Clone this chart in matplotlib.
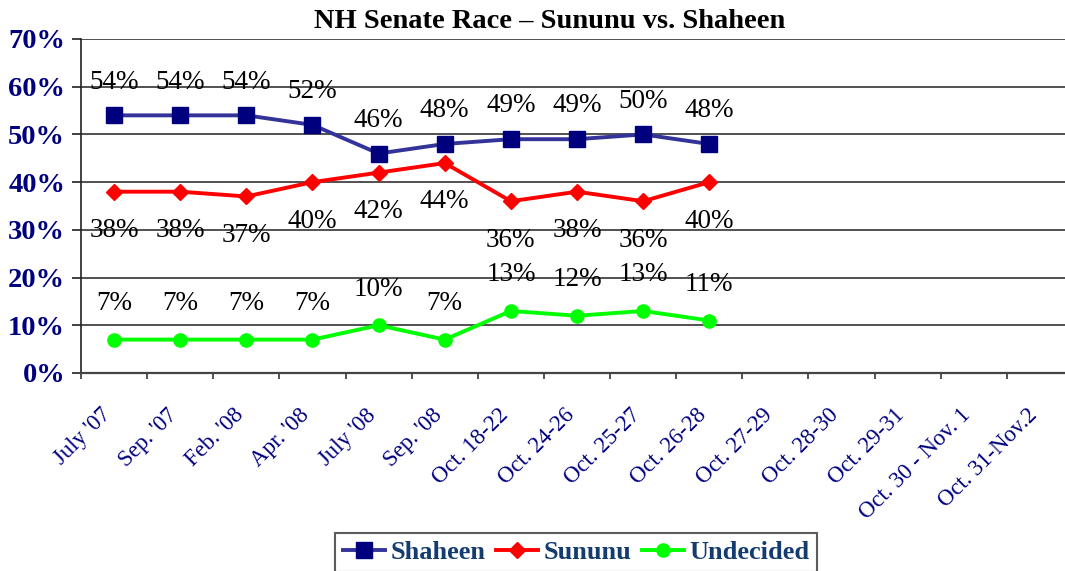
import matplotlib
matplotlib.use("Agg")
import matplotlib.pyplot as plt
import matplotlib.transforms as mtransforms
from matplotlib.ticker import FuncFormatter, MultipleLocator

plt.rcParams['font.family'] = ['Liberation Serif', 'DejaVu Serif']

categories = ["July '07", "Sep. '07", "Feb. '08", "Apr. '08", "July '08", "Sep. '08",
              "Oct. 18-22", "Oct. 24-26", "Oct. 25-27", "Oct. 26-28", "Oct. 27-29",
              "Oct. 28-30", "Oct. 29-31", "Oct. 30 - Nov. 1", "Oct. 31-Nov.2"]
shaheen = [54, 54, 54, 52, 46, 48, 49, 49, 50, 48]
sununu = [38, 38, 37, 40, 42, 44, 36, 38, 36, 40]
undecided = [7, 7, 7, 7, 10, 7, 13, 12, 13, 11]

W, H = 1065, 571
fig = plt.figure(figsize=(W / 100, H / 100), dpi=100)
left, right, top, bottom = 81, 1073, 39, 373
ax = fig.add_axes([left / W, 1 - bottom / H, (right - left) / W, (bottom - top) / H])

navy = '#00007F'
ax.set_xlim(-0.5, len(categories) - 0.5)
ax.set_ylim(0, 70)
ax.yaxis.set_major_locator(MultipleLocator(10))
ax.yaxis.set_major_formatter(FuncFormatter(lambda v, p: f"{int(round(v))}%"))
ax.grid(axis='y', color='#222222', linewidth=1.1, zorder=1)
for s in ['top', 'right']:
    ax.spines[s].set_visible(False)
ax.spines['left'].set_color('#222222')
ax.spines['left'].set_linewidth(1.2)
ax.spines['bottom'].set_color('#444444')
ax.spines['bottom'].set_linewidth(1.6)

ax.tick_params(axis='y', length=6.5, width=1.2, color='#222222', direction='out', pad=5,
               labelsize=20.5, labelcolor=navy)
for t in ax.get_yticklabels():
    t.set_fontweight('bold')

# category ticks between categories
ax.set_xticks([i - 0.5 for i in range(len(categories) + 1)])
ax.set_xticklabels([])
ax.set_xticks(range(len(categories)), minor=True)
ax.set_xticklabels(categories, minor=True, rotation=45, ha='right', va='center',
                   rotation_mode='anchor', fontsize=16.5, color=navy)
ax.tick_params(axis='x', which='major', length=4.5, width=1.3, color='#444444', direction='out')
ax.tick_params(axis='x', which='minor', length=0, pad=28)
offset = mtransforms.ScaledTranslation(-6 / 100, 0, fig.dpi_scale_trans)
for t in ax.xaxis.get_minorticklabels():
    t.set_transform(t.get_transform() + offset)

x = list(range(len(shaheen)))
ax.plot(x, shaheen, color='#333399', linewidth=2.8, marker='s', markersize=11,
        markerfacecolor=navy, markeredgecolor=navy, label='Shaheen', zorder=4)
ax.plot(x, sununu, color='#FF0000', linewidth=2.8, marker='D', markersize=8.5,
        markerfacecolor='#FF0000', markeredgecolor='#FF0000', label='Sununu', zorder=4)
ax.plot(x, undecided, color='#00FF00', linewidth=2.8, marker='o', markersize=9.5,
        markerfacecolor='#00FF00', markeredgecolor='#00FF00', label='Undecided', zorder=4)

lab_fs = 19.5
for xi, v in zip(x, shaheen):
    ax.annotate(f"{v}%", (xi, v), xytext=(0, 24), textcoords='offset points',
                ha='center', va='center', fontsize=lab_fs, color='black', zorder=2)
for xi, v in zip(x, sununu):
    ax.annotate(f"{v}%", (xi, v), xytext=(0, -28), textcoords='offset points',
                ha='center', va='center', fontsize=lab_fs, color='black', zorder=2)
for xi, v in zip(x, undecided):
    ax.annotate(f"{v}%", (xi, v), xytext=(0, 26), textcoords='offset points',
                ha='center', va='center', fontsize=lab_fs, color='black', zorder=2)

fig.text(550 / W, 1 - 22 / H, "NH Senate Race \u2013 Sununu vs. Shaheen", ha='center', va='center',
         fontsize=20.5, fontweight='bold', color='black')

leg = fig.legend(loc='upper center', bbox_to_anchor=(576 / W, 1 - 533 / H), ncol=3,
                 frameon=True, fancybox=False, edgecolor='#333333', handlelength=1.6,
                 handletextpad=0.2, columnspacing=0.4, borderpad=0.3, borderaxespad=0,
                 prop={'family': 'Liberation Serif', 'weight': 'bold', 'size': 19})
leg.get_frame().set_linewidth(1.5)
for t in leg.get_texts():
    t.set_color('#143C6E')

fig.savefig('out.png', dpi=100)
